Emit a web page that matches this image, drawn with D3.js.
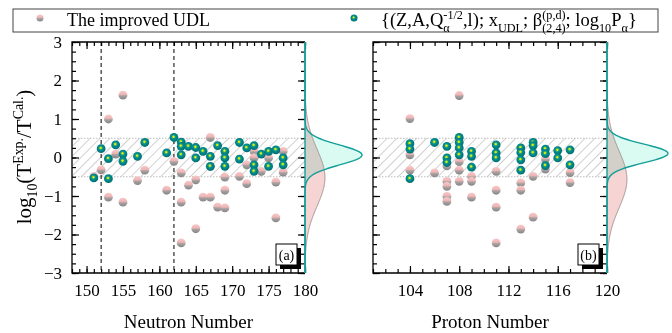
<!DOCTYPE html>
<html>
<head>
<meta charset="utf-8">
<script src="https://cdn.jsdelivr.net/npm/d3@7"></script>
<style>
  body { margin: 0; background: #fff; }
  text { font-family: "Liberation Serif", "Times New Roman", serif; fill: #000; }
</style>
</head>
<body>
<svg id="chart" width="672" height="333"></svg>
<script>
// ---- data: [N or Z, log10(Texp/Tcal)] ----
const leftUdl = [
  [155, 1.62], [153, 1.0], [167, 0.52], [154, 0.09], [152, -0.32], [151, -0.49],
  [158, -0.33], [162, -0.1], [163, -0.4], [157, -0.6], [165, -0.58], [153, -1.03],
  [155, -1.16], [161, -0.85], [163, -1.16], [163, -2.22], [164, -0.72], [165, -1.85],
  [166, -1.03], [167, -1.03], [168, -1.29], [169, -1.31], [169, -0.85], [169, -0.51],
  [171, -0.49], [172, -0.68], [176, -1.57], [176, -0.64], [177, -0.38], [177, 0.16],
  [173, 0.16], [172, -0.19], [173, -0.01], [175, -0.01], [174, -0.36], [167, -0.23]
];
const leftNew = [
  [151, -0.53], [153, -0.55], [152, 0.23], [154, 0.33], [153, -0.03], [155, 0.09],
  [155, -0.1], [157, 0.03], [158, 0.39], [161, 0.12], [162, 0.52], [163, 0.4],
  [163, 0.29], [163, 0.07], [164, 0.29], [165, 0.26], [165, -0.01], [166, 0.16],
  [167, 0.03], [167, -0.23], [168, 0.31], [169, 0.16], [169, -0.01], [169, -0.23],
  [171, 0.39], [171, -0.04], [172, 0.25], [173, 0.31], [173, -0.19], [173, -0.36],
  [174, 0.09], [175, 0.16], [175, -0.23], [176, 0.2], [177, -0.01], [177, -0.19]
];
const rightUdl = [
  [108, 1.61], [104, 1.01], [104, 0.07], [104, -0.33], [106, -0.4], [107, -0.22],
  [107, -0.62], [107, -0.75], [107, -1.01], [107, -1.14], [108, -0.11], [108, -0.33],
  [108, -0.62], [109, -0.49], [109, -0.62], [109, -1.03], [111, -0.36], [111, -0.85],
  [111, -1.29], [111, -2.22], [113, -0.66], [113, -0.85], [113, -1.86], [114, -0.49],
  [114, -1.55], [115, -0.04], [115, -0.3], [117, -0.39], [117, -0.65]
];
const rightNew = [
  [104, 0.36], [104, 0.22], [104, -0.55], [106, 0.39], [107, 0.29], [107, -0.01],
  [107, -0.13], [108, 0.52], [108, 0.39], [108, 0.25], [108, 0.07], [109, 0.16],
  [109, 0.03], [109, -0.25], [111, 0.33], [111, 0.12], [111, -0.01], [113, 0.25],
  [113, 0.13], [113, -0.06], [113, -0.33], [114, 0.39], [114, 0.31], [114, 0.12],
  [115, 0.22], [115, 0.1], [115, -0.21], [116, 0.18], [116, -0.01], [117, 0.2],
  [117, -0.19]
];
const shellLines = [152, 162];
const leftTicks = [150, 155, 160, 165, 170, 175, 180];
const rightTicks = [104, 108, 112, 116, 120];
const yTicks = [-3, -2, -1, 0, 1, 2, 3];

const svg = d3.select('#chart');
const yTop = 42, yBot = 273;
const yScale = d3.scaleLinear().domain([-3, 3]).range([yBot, yTop]);

// ---- defs: sphere gradients + hatch ----
const defs = svg.append('defs');
const pinkG = defs.append('linearGradient').attr('id', 'pinkBall')
  .attr('x1', 0).attr('y1', 0).attr('x2', 0).attr('y2', 1);
[['0%', '#f7c9c9'], ['42%', '#eeb4b4'], ['58%', '#a9a2a2'], ['100%', '#858585']]
  .forEach(s => pinkG.append('stop').attr('offset', s[0]).attr('stop-color', s[1]));
const tealG = defs.append('radialGradient').attr('id', 'tealBall')
  .attr('cx', 0.45).attr('cy', 0.42).attr('r', 0.58);
[['0%', '#eeff22'], ['16%', '#c4e40c'], ['32%', '#2a9f80'], ['48%', '#008c8c'], ['100%', '#006e74']]
  .forEach(s => tealG.append('stop').attr('offset', s[0]).attr('stop-color', s[1]));
const hatch = defs.append('pattern').attr('id', 'hatch')
  .attr('patternUnits', 'userSpaceOnUse').attr('width', 7).attr('height', 7)
  .attr('patternTransform', 'rotate(45)');
hatch.append('line').attr('x1', 0).attr('y1', 0).attr('x2', 0).attr('y2', 7)
  .attr('stroke', '#a2a2a2').attr('stroke-width', 1);

// normal fit of a set of residuals
function fit(vals) {
  return { mean: d3.mean(vals), sd: d3.deviation(vals) };
}
function pdf(f, v) {
  return Math.exp(-0.5 * ((v - f.mean) / f.sd) ** 2) / (f.sd * Math.sqrt(2 * Math.PI));
}
const yGrid = d3.range(-3, 3.0001, 0.02);
// same density scale for both panels (teal peak ~61px)
const densK = 61 * fit(rightNew.map(d => d[1])).sd * Math.sqrt(2 * Math.PI);

function drawPanel(opt) {
  const { x0, x1, domain, ticks, udl, nw, label, title, showY } = opt;
  const xScale = d3.scaleLinear().domain(domain).range([x0, x1]);
  const g = svg.append('g');

  // hatched band |log| < 0.5
  g.append('rect').attr('x', x0).attr('width', x1 - x0)
    .attr('y', yScale(0.5)).attr('height', yScale(-0.5) - yScale(0.5))
    .attr('fill', 'url(#hatch)');
  [0.5, -0.5].forEach(v => g.append('line')
    .attr('x1', x0).attr('x2', x1).attr('y1', yScale(v)).attr('y2', yScale(v))
    .attr('stroke', '#bcbcbc').attr('stroke-dasharray', '1.5,1.5'));

  if (opt.lines) {
    opt.lines.forEach(n => g.append('line')
      .attr('x1', xScale(n)).attr('x2', xScale(n)).attr('y1', yTop).attr('y2', yBot)
      .attr('stroke', '#000').attr('stroke-width', 1).attr('stroke-dasharray', '4,3'));
  }

  // points
  g.selectAll('circle.udl').data(udl).enter().append('circle')
    .attr('class', 'udl')
    .attr('cx', d => xScale(d[0])).attr('cy', d => yScale(d[1])).attr('r', 4.4)
    .attr('fill', 'url(#pinkBall)');
  g.selectAll('circle.nw').data(nw).enter().append('circle')
    .attr('class', 'nw')
    .attr('cx', d => xScale(d[0])).attr('cy', d => yScale(d[1])).attr('r', 4.4)
    .attr('fill', 'url(#tealBall)');

  // axes, ticks pointing inward
  const minorX = d3.range(Math.ceil(domain[0]), domain[1] + 0.001, 1);
  const minorY = d3.range(-3, 3.001, 0.25);
  const axes = [
    [d3.axisBottom(xScale).tickValues(ticks).tickSize(-7).tickPadding(11).tickFormat(d3.format('d')), `translate(0,${yBot})`],
    [d3.axisBottom(xScale).tickValues(minorX).tickSize(-4).tickFormat(''), `translate(0,${yBot})`],
    [d3.axisTop(xScale).tickValues(ticks).tickSize(-7).tickFormat(''), `translate(0,${yTop})`],
    [d3.axisTop(xScale).tickValues(minorX).tickSize(-4).tickFormat(''), `translate(0,${yTop})`],
    [d3.axisLeft(yScale).tickValues(yTicks).tickSize(-7).tickPadding(10)
      .tickFormat(showY ? d3.format('d') : ''), `translate(${x0},0)`],
    [d3.axisLeft(yScale).tickValues(minorY).tickSize(-4).tickFormat(''), `translate(${x0},0)`],
    [d3.axisRight(yScale).tickValues(yTicks).tickSize(-7).tickFormat(''), `translate(${x1},0)`],
    [d3.axisRight(yScale).tickValues(minorY).tickSize(-4).tickFormat(''), `translate(${x1},0)`]
  ];
  axes.forEach(([ax, tr]) => {
    const a = g.append('g').attr('transform', tr).call(ax);
    a.select('.domain').remove();
    a.selectAll('line').attr('stroke', '#000').attr('stroke-width', 1.2);
    a.selectAll('text').style('font-family', '"Liberation Serif", serif')
      .style('font-size', '17px').attr('fill', '#000');
  });

  // frame
  g.append('path').attr('d', `M${x1},${yTop}H${x0}V${yBot}H${x1}`)
    .attr('fill', 'none').attr('stroke', '#000').attr('stroke-width', 1.3);

  // marginal normal densities
  const fU = fit(udl.map(d => d[1]));
  const fN = fit(nw.map(d => d[1]));
  const areaU = d3.area().y(v => yScale(v)).x0(x1).x1(v => x1 + pdf(fU, v) * densK);
  const areaN = d3.area().y(v => yScale(v)).x0(x1).x1(v => x1 + pdf(fN, v) * densK);
  g.append('path').attr('d', areaU(yGrid)).attr('fill', '#f6d4d4');
  g.append('path').attr('d', areaN(yGrid)).attr('fill', '#dafbf2')
    .style('mix-blend-mode', 'multiply');
  g.append('path').attr('d', areaU.lineX1()(yGrid)).attr('fill', 'none')
    .attr('stroke', '#a39595').attr('stroke-width', 1);
  g.append('path').attr('d', areaN.lineX1()(yGrid)).attr('fill', 'none')
    .attr('stroke', '#139e99').attr('stroke-width', 1.4);
  g.append('line').attr('x1', x1).attr('x2', x1).attr('y1', yTop).attr('y2', yBot)
    .attr('stroke', '#139e99').attr('stroke-width', 1.4);

  // panel tag
  const bx = x1 - 29, by = yBot - 29;
  g.append('rect').attr('x', bx + 4).attr('y', by + 4).attr('width', 21).attr('height', 21).attr('fill', '#000');
  g.append('rect').attr('x', bx).attr('y', by).attr('width', 21).attr('height', 21)
    .attr('fill', '#fff').attr('stroke', '#000').attr('stroke-width', 1);
  g.append('text').attr('x', bx + 10.5).attr('y', by + 15.5).attr('text-anchor', 'middle')
    .style('font-size', '14px').text(label);

  // x title
  g.append('text').attr('x', (x0 + x1) / 2).attr('y', 328).attr('text-anchor', 'middle')
    .style('font-size', '19px').text(title);
}

drawPanel({ x0: 72, x1: 305, domain: [148, 180], ticks: leftTicks, udl: leftUdl, nw: leftNew,
  label: '(a)', title: 'Neutron Number', showY: true, lines: shellLines });
drawPanel({ x0: 373, x1: 607, domain: [101, 120], ticks: rightTicks, udl: rightUdl, nw: rightNew,
  label: '(b)', title: 'Proton Number', showY: false });

// text with sub/superscripts laid out piece by piece
function richText(g, x, y, segs, size) {
  let cx = x;
  const small = size * 0.66;
  segs.forEach(seg => {
    if (seg.k === 'n') {
      const t = g.append('text').attr('x', cx).attr('y', y).style('font-size', size + 'px').text(seg.s);
      cx += t.node().getComputedTextLength();
    } else {
      const parts = seg.k === 'pair' ? [[seg.s[0], -0.4], [seg.s[1], 0.3]]
        : [[seg.s, seg.k === 'sup' ? -0.4 : 0.3]];
      let w = 0;
      parts.forEach(([s, off]) => {
        const t = g.append('text').attr('x', cx).attr('y', y + off * size)
          .style('font-size', small + 'px').text(s);
        w = Math.max(w, t.node().getComputedTextLength());
      });
      cx += w;
    }
  });
  return cx - x;
}

// y title
const yt = svg.append('g').attr('transform', 'translate(31,157) rotate(-90)');
const ytIn = yt.append('g');
const ytW = richText(ytIn, 0, 0, [
  { k: 'n', s: 'log' }, { k: 'sub', s: '10' }, { k: 'n', s: '(T' }, { k: 'sup', s: 'Exp.' },
  { k: 'n', s: '/T' }, { k: 'sup', s: 'Cal.' }, { k: 'n', s: ')' }
], 21);
ytIn.attr('transform', `translate(${-ytW / 2},0)`);

// legend
const lg = svg.append('g');
lg.append('rect').attr('x', 13).attr('y', 9).attr('width', 645).attr('height', 23)
  .attr('fill', '#fff').attr('stroke', '#444').attr('stroke-width', 1);
lg.append('circle').attr('cx', 40).attr('cy', 18).attr('r', 3.5).attr('fill', 'url(#pinkBall)');
lg.append('text').attr('x', 67).attr('y', 26).style('font-size', '18px').text('The improved UDL');
lg.append('circle').attr('cx', 354).attr('cy', 18).attr('r', 3.5).attr('fill', 'url(#tealBall)');
richText(lg, 381, 26, [
  { k: 'n', s: '{(Z,A,Q' }, { k: 'pair', s: ['-1/2', 'α'] }, { k: 'n', s: ',l); x' },
  { k: 'sub', s: 'UDL' }, { k: 'n', s: '; β' }, { k: 'pair', s: ['(p,d)', '(2,4)'] },
  { k: 'n', s: '; log' }, { k: 'sub', s: '10' }, { k: 'n', s: 'P' }, { k: 'sub', s: 'α' },
  { k: 'n', s: '}' }
], 18.5);
</script>
</body>
</html>
